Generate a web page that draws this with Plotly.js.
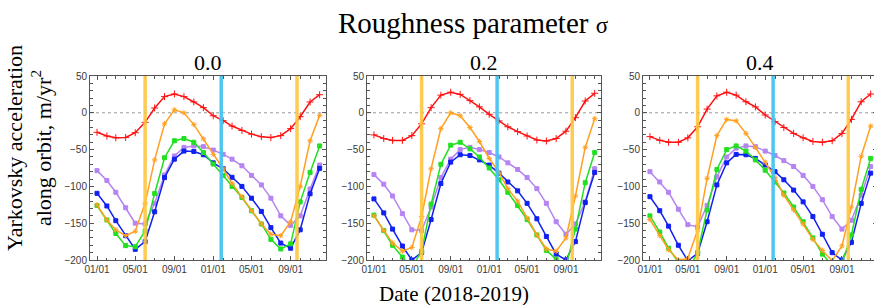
<!DOCTYPE html>
<html>
<head>
<meta charset="utf-8">
<script src="https://cdn.plot.ly/plotly-3.0.1.min.js"></script>
<style>
html,body{margin:0;padding:0;overflow:hidden;background:#fff;}
#chart{width:878px;height:305px;}
</style>
</head>
<body>
<div id="chart"></div>
<script>
// ---- data ----
const months = ['2018-01-01','2018-02-01','2018-03-01','2018-04-01','2018-05-01','2018-06-01',
                '2018-07-01','2018-08-01','2018-09-01','2018-10-01','2018-11-01','2018-12-01',
                '2019-01-01','2019-02-01','2019-03-01','2019-04-01','2019-05-01','2019-06-01',
                '2019-07-01','2019-08-01','2019-09-01','2019-10-01','2019-11-01','2019-12-01'];

const panelTitles = ['0.0', '0.2', '0.4'];

// sigma = 0.0
const red00    = [-26.5,-31.5,-34,-33.5,-27,-13,6.5,22,25.5,22,14.7,7,-4,-10.7,-18,-24,-29,-32.4,-33.7,-31,-21.5,-5.3,14.7,24.6];
const orange00 = [-125,-146,-159,-167,-161,-123,-64,-15,4,0,-16,-35.5,-56.5,-76,-96,-114,-133,-151,-165,-167,-148,-100,-38,-3.5];
const green00  = [-126,-145.6,-164,-180.5,-182,-160.6,-109.6,-61,-38,-35,-40,-54,-69.6,-85,-100,-115,-133,-151,-172,-185,-178,-121,-81,-45];
const blue00   = [-109.4,-126.6,-146.6,-167,-185.5,-175,-134.5,-88,-63,-52,-52.5,-57,-68,-76,-87.6,-100,-116,-134,-156,-177,-184,-159,-110,-75.5];
const purple00 = [-78.6,-92,-108,-129,-150,-151,-123,-84.5,-58.7,-47,-45,-46,-50.6,-56.4,-63,-72,-85,-98,-116,-140,-153,-140,-103.5,-71];

// sigma = 0.2
const red02    = [-30,-35,-37.5,-37.5,-31,-15,7,24,28,25,16.5,8,-2,-11,-19,-25.6,-31.5,-37,-38.3,-35,-25,-6.6,16,26.5];
const orange02 = [-140,-160,-177,-188,-183,-141,-76,-21.5,0,-4,-20,-39,-62,-81,-103,-120,-143,-166,-185,-188,-170,-113,-47,-8];
const green02  = [-139,-160,-180,-196,-210,-188,-124,-70,-44,-40,-49,-60,-75,-91,-108,-126,-145,-166,-187,-199,-208,-158,-95,-54];
const blue02   = [-117,-136,-158,-181,-200,-190,-145,-96,-67,-57,-58,-64,-71,-82,-94,-106,-123,-144,-168,-192,-200,-175,-122,-81];
const purple02 = [-84,-97,-113,-137,-159,-160,-128,-88,-63,-50,-47,-50,-54,-60,-68,-77,-88,-103,-123,-148,-165,-151,-121,-76];

// sigma = 0.4
const red04    = [-32.4,-37.4,-40,-40,-34,-19,5,23,28,24,15,8,-3,-12,-20,-28,-34,-39,-40,-38,-28,-9,15,25.5];
const orange04 = [-145,-167,-186,-200,-198,-159,-89,-31,-9,-11,-28,-47,-67,-88,-112,-132,-151,-172,-187,-201,-181,-128,-59,-18];
const green04  = [-140,-162,-184,-203,-215,-190,-132,-77,-50,-45,-52,-64,-78,-94,-109,-128,-148,-170,-192,-207,-204,-166,-104,-62];
const blue04   = [-114,-133,-154,-180,-201,-191,-148,-98,-68,-56.5,-57,-62,-71,-80,-91,-105,-121,-141,-165,-190,-200,-176,-123,-82];
const purple04 = [-80,-94,-108,-131,-152,-155,-126,-87,-60,-48,-45,-46,-52,-58,-65,-73,-85,-100,-118,-141,-158,-146,-112,-73];

// vertical marker dates
const yellowDates = ['2018-06-01', '2019-09-21'];
const cyanDates   = ['2019-01-26'];

// ---- styles ----
const styles = {
  red:    {color:'#ff1010', symbol:'cross-thin-open', size:5},
  orange: {color:'#ffa020', symbol:'asterisk-open',   size:4.5},
  green:  {color:'#20e020', symbol:'square',          size:4},
  blue:   {color:'#1020f0', symbol:'square',          size:4},
  purple: {color:'#b584f2', symbol:'square',          size:4}
};

const panels = [
  {red:red00, orange:orange00, green:green00, blue:blue00, purple:purple00},
  {red:red02, orange:orange02, green:green02, blue:blue02, purple:purple02},
  {red:red04, orange:orange04, green:green04, blue:blue04, purple:purple04}
];
const order = ['purple','blue','green','orange','red'];

const traces = [];
panels.forEach((p, k) => {
  const sx = k === 0 ? 'x' : 'x' + (k + 1);
  const sy = k === 0 ? 'y' : 'y' + (k + 1);
  order.forEach(name => {
    const s = styles[name];
    traces.push({
      type:'scatter', mode:'lines+markers', x:months, y:p[name],
      xaxis:sx, yaxis:sy, hoverinfo:'skip',
      line:{color:s.color, width:1.5},
      marker:{symbol:s.symbol, size:s.size, color:s.color, line:{color:s.color, width:1}}
    });
  });
});

const domains = [[0, 0.29987], [0.35197, 0.6493], [0.70267, 1]];
const tickFont = {family:'Liberation Sans, Arial, sans-serif', size:10, color:'#3a3a3a'};

function xAxis(k) {
  return {
    type:'date', domain:domains[k], anchor: k === 0 ? 'y' : 'y' + (k + 1),
    range:['2017-12-10', '2019-12-21'],
    tick0:'2018-01-01', dtick:'M4', tickformat:'%m/%d',
    ticks:'inside', ticklen:4, tickcolor:'#555', tickwidth:1,
    showline:true, linecolor:'#555', linewidth:1, mirror:'allticks',
    showgrid:false, zeroline:false, tickfont:tickFont,
    minor:{ticks:'inside', ticklen:2.5, dtick:'M1', tick0:'2018-01-01', tickcolor:'#555', showgrid:false}
  };
}
function yAxis(k) {
  return {
    domain:[0, 1], anchor: k === 0 ? 'x' : 'x' + (k + 1),
    range:[-200, 50], tick0:0, dtick:50,
    ticks:'inside', ticklen:4, tickcolor:'#555', tickwidth:1,
    showline:true, linecolor:'#555', linewidth:1, mirror:'allticks',
    showgrid:false, zeroline:false, tickfont:tickFont,
    minor:{ticks:'inside', ticklen:2.5, dtick:10, tick0:0, tickcolor:'#555', showgrid:false}
  };
}

const shapes = [];
const annotations = [];
const serif = 'Liberation Serif, Times New Roman, serif';
for (let k = 0; k < 3; k++) {
  const sx = k === 0 ? 'x' : 'x' + (k + 1);
  const sy = k === 0 ? 'y' : 'y' + (k + 1);
  shapes.push({type:'line', xref:sx + ' domain', yref:sy, x0:0, x1:1, y0:0, y1:0,
               line:{color:'#999', width:1, dash:'dot'}, layer:'below'});
  yellowDates.forEach(d => shapes.push({type:'line', xref:sx, yref:sy + ' domain', x0:d, x1:d, y0:0, y1:1,
               line:{color:'#ffc63e', width:3.5}, opacity:0.9, layer:'above'}));
  cyanDates.forEach(d => shapes.push({type:'line', xref:sx, yref:sy + ' domain', x0:d, x1:d, y0:0, y1:1,
               line:{color:'#45c4f0', width:3.5}, opacity:0.95, layer:'above'}));
  annotations.push({text:panelTitles[k], xref:sx + ' domain', yref:'paper', x:0.5, y:1.076,
                    xanchor:'center', yanchor:'middle', showarrow:false,
                    font:{family:serif, size:22, color:'#000'}});
}
annotations.push({text:'Roughness parameter <span style="font-size:23px">σ</span>', xref:'paper', yref:'paper', x:0.4867, y:1.29,
                  xanchor:'center', yanchor:'middle', showarrow:false,
                  font:{family:serif, size:29, color:'#000'}});
annotations.push({text:'Date (2018-2019)', xref:'paper', yref:'paper', x:0.4625, y:-0.185,
                  xanchor:'center', yanchor:'middle', showarrow:false,
                  font:{family:serif, size:21, color:'#000'}});
annotations.push({text:'Yarkovsky acceleration<br>along orbit, m/yr<sup>2</sup>', xref:'paper', yref:'paper',
                  x:-0.0775, y:0.6087, xanchor:'center', yanchor:'middle', textangle:-90, showarrow:false,
                  font:{family:serif, size:22, color:'#000'}});

const layout = {
  width:878, height:305,
  margin:{l:90, r:1, t:76, b:45},
  paper_bgcolor:'#fff', plot_bgcolor:'#fff',
  showlegend:false,
  xaxis:xAxis(0), xaxis2:xAxis(1), xaxis3:xAxis(2),
  yaxis:yAxis(0), yaxis2:yAxis(1), yaxis3:yAxis(2),
  shapes:shapes, annotations:annotations
};

Plotly.newPlot('chart', traces, layout, {displayModeBar:false, staticPlot:true});
</script>
</body>
</html>
